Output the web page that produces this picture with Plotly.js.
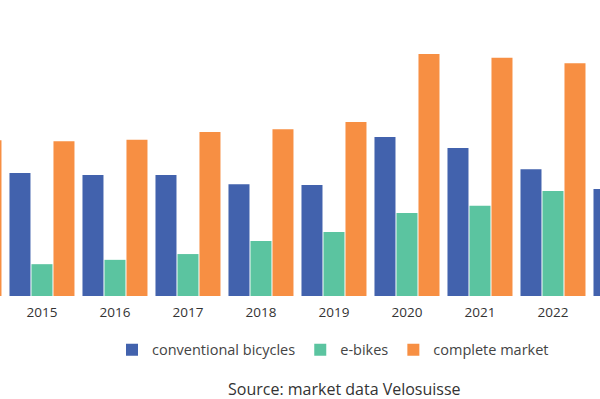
<!DOCTYPE html>
<html>
<head>
<meta charset="utf-8">
<script src="https://cdn.plot.ly/plotly-3.0.1.min.js"></script>
<style>html,body{margin:0;padding:0;background:#fff;}#chart{width:600px;height:399px;}</style>
</head>
<body>
<div id="chart"></div>
<script>
// Swiss bicycle sales (thousands of units), market data Velosuisse
const years = [2014, 2015, 2016, 2017, 2018, 2019, 2020, 2021, 2022, 2023];
const conventional = [265, 255, 251, 251, 232, 230, 330, 307, 263, 222];
const ebikes = [57, 66, 75, 87, 114, 133, 172, 187, 218, 200];
const complete = [323, 321, 324, 340, 346, 361, 502, 494, 483, 422];
const tickYears = [2015, 2016, 2017, 2018, 2019, 2020, 2021, 2022];
const seriesNames = ['conventional bicycles', 'e-bikes', 'complete market'];
const seriesColors = ['#4262ad', '#5bc4a0', '#f78f43'];

const font = 'Open Sans, Lato, sans-serif';
const values = [conventional, ebikes, complete];
const traces = values.map((v, i) => ({
  type: 'bar',
  x: years,
  y: v,
  name: seriesNames[i],
  marker: {color: seriesColors[i]},
  hoverinfo: 'x+y+name'
}));

const layout = {
  width: 600,
  height: 399,
  margin: {l: 0, r: 0, t: 0, b: 103},
  paper_bgcolor: '#fff',
  plot_bgcolor: '#fff',
  barmode: 'group',
  bargap: 0.096,
  bargroupgap: 0.045,
  showlegend: true,
  xaxis: {
    range: [2014.425, 2022.644],
    tickvals: tickYears,
    ticktext: tickYears.map(String),
    showgrid: false,
    zeroline: false,
    showline: false,
    ticks: '',
    ticklabelstandoff: 6,
    tickfont: {family: font, size: 13.5, color: '#333'}
  },
  yaxis: {
    range: [0, 614],
    visible: false,
    showgrid: false,
    zeroline: false
  },
  legend: {
    orientation: 'h',
    x: 0.555,
    xanchor: 'center',
    y: -0.182,
    yanchor: 'middle',
    font: {family: font, size: 14.5, color: '#444'},
    traceorder: 'normal',
    itemclick: false
  },
  annotations: [{
    text: 'Source: market data Velosuisse',
    xref: 'paper', yref: 'paper',
    x: 0.574, y: -0.314,
    xanchor: 'center', yanchor: 'middle',
    showarrow: false,
    font: {family: font, size: 16, color: '#333'}
  }]
};

Plotly.newPlot('chart', traces, layout, {displayModeBar: false, staticPlot: true});
</script>
</body>
</html>
